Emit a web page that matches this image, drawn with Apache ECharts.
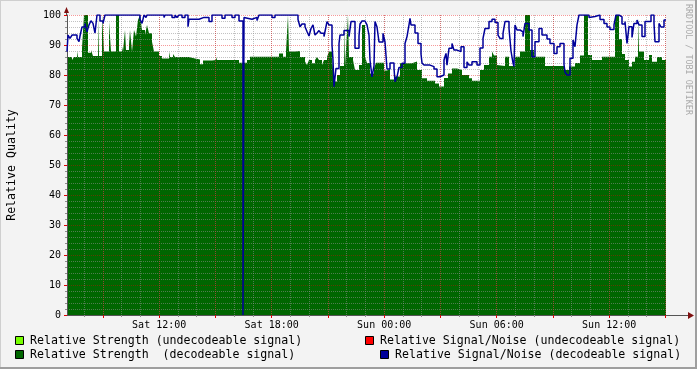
<!DOCTYPE html>
<html><head><meta charset="utf-8">
<script src="https://cdn.jsdelivr.net/npm/echarts@6/dist/echarts.min.js"></script>
<style>html,body{margin:0;padding:0;background:#f3f3f3}#c{width:697px;height:369px}</style>
</head><body><div id="c"></div><script>
// ---- data ----
const T0_MIN = 425;      // first RRD row: Sat 07:05 (minutes since Sat 00:00)
const ROW_MIN = 3.2;     // minutes per RRD row
const N_ROWS = 599;
const xLabelTimes = [720, 1080, 1440, 1800, 2160];
const yTickValues = [0,10,20,30,40,50,60,70,80,90,100];
// Relative Strength (decodeable signal): [row where value starts, value]
const strength = [[0,86],[5,85],[7,86],[10,88],[11,86],[15,89],[17,100],[21,87.4],[24,88.3],[26,86.3],[31,99],[32,86.3],[35,100],[37,87.8],[42,97.8],[44,87.8],[49,100],[52,87.8],[55,89.4],[56,87.8],[58,95],[59,88.3],[62,90],[63,95],[65,87.8],[67,95],[69,92.8],[71,98.3],[73,100],[75,95],[78,93.3],[80,96.7],[82,93.9],[85,91.1],[87,87.8],[92,86.3],[95,85.5],[102,87.8],[103,86],[106,87],[108,86],[122,85.5],[128,85.2],[133,83.6],[136,84.8],[145,85],[149,86],[150,85],[172,84.1],[180,85],[183,86.1],[212,87.2],[216,86.1],[219,87.8],[221,100],[222,87.8],[228,88],[233,86],[238,84.5],[240,83.3],[242,85],[245,83.9],[248,85],[250,86],[252,85],[255,83.3],[257,85],[260,86],[262,87.8],[265,86],[267,77.8],[270,80],[273,83],[277,97.8],[278,83],[279,88.3],[281,100],[282,86],[286,85],[288,81.7],[292,83.3],[295,96.7],[298,86.1],[300,84],[303,80.5],[307,82.2],[309,84.1],[317,81.5],[320,82],[323,78.5],[328,79.5],[333,83.9],[345,84.5],[350,81.7],[355,78.9],[360,78.1],[368,77.2],[372,76.2],[377,79],[381,80.5],[385,82.2],[390,81.7],[395,80],[402,78.9],[405,78.1],[413,81.7],[417,83.3],[422,86.1],[425,87.8],[427,86.5],[430,83.3],[432,83],[438,86.1],[442,83],[448,86.1],[453,87.8],[458,100],[463,88.3],[467,86.1],[478,83],[497,82.5],[498,81.7],[502,82.8],[508,84],[513,86.5],[517,100],[521,86.7],[525,85],[535,86.1],[548,100],[552,92],[555,87],[558,85],[562,82.8],[565,84.4],[568,86.1],[571,99],[572,87.8],[577,85],[582,86.7],[585,84.4],[590,86],[595,85]];
// Relative Signal/Noise (decodeable signal): [row where value starts, value]
const snr = [[0,87.8],[1,93.3],[3,92.2],[5,93.3],[10,92.2],[12,91.1],[13,93],[15,96],[18,97.2],[20,94.4],[22,96.7],[24,98.1],[26,97.2],[28,94],[30,100],[33,98],[36,97.2],[38,100],[58,99.4],[60,100],[69,99.4],[70,100],[73,98.6],[75,97.2],[77,100],[79,99.2],[80,100],[97,99.2],[98,100],[105,99.2],[108,100],[110,99.2],[112,100],[115,99.2],[118,100],[121,96.1],[122,98.6],[132,99.2],[137,98.6],[139,99.2],[142,97.8],[145,100],[155,98.9],[158,100],[165,99.2],[168,100],[172,98],[176,0],[177,99.2],[178,98.6],[185,99.2],[190,98.2],[192,100],[205,99.2],[208,100],[231,98.5],[233,96.1],[235,97],[238,96.1],[240,94.5],[242,93],[244,95.5],[246,96.7],[248,93.3],[250,94],[252,94.8],[254,93.9],[257,92.8],[258,94.5],[260,97.8],[262,96.7],[265,90],[266,85],[267,76.1],[269,82.2],[272,90.5],[273,93.3],[277,94.8],[282,92.8],[284,97.8],[288,88.9],[292,93],[293,97],[295,98],[298,97.5],[300,96.7],[302,93.3],[303,85],[305,79.4],[307,83],[308,97.8],[310,96],[312,91],[316,93.9],[318,91],[320,82],[323,84],[327,82.2],[328,77.8],[330,79.4],[332,82.5],[335,83.9],[338,90.5],[340,92.8],[342,96.7],[343,98.9],[344,96.7],[348,94],[351,90.5],[354,87],[355,84],[357,83.3],[363,82.8],[367,82],[370,79.4],[373,80],[377,85],[379,87.2],[380,83.3],[382,88.9],[385,90.5],[387,88.3],[390,87.8],[394,89.4],[397,82.5],[400,84.4],[402,83.3],[405,84.4],[410,83.3],[413,89],[416,92.2],[418,95.5],[422,97.8],[425,98.6],[428,97.5],[431,93.3],[433,92.2],[436,93.9],[438,97.8],[442,95.5],[444,88],[446,84],[447,82.8],[448,96.7],[450,95],[453,94.4],[456,92.8],[458,97.2],[462,95],[465,86.1],[468,91.1],[472,95.5],[475,93.3],[480,92],[483,90.5],[487,87.2],[490,89.4],[493,90.5],[497,83.5],[498,81],[500,80],[503,85.6],[506,91.7],[508,89.4],[510,96.7],[512,100],[522,99.2],[523,99.5],[528,100],[533,98.5],[537,97.2],[540,96],[543,95.2],[547,96.7],[549,100],[552,99.4],[555,97],[558,97.8],[560,90.5],[562,96.1],[565,92.5],[567,97.2],[570,98.3],[572,96.7],[575,92.8],[578,97.8],[584,100],[587,97.2],[588,91.1],[592,97.2],[594,96],[597,98.3]];

// ---- build ----
const MONO = '"DejaVu Sans Mono", monospace';
const tMax = T0_MIN + N_ROWS * ROW_MIN;
function toSeries(arr){
  const d = arr.map(([r,v]) => [T0_MIN + r*ROW_MIN, v]);
  d.push([tMax, arr[arr.length-1][1]]);
  return d;
}
const hourMarks = [], majorMarks = [];
for (let m = Math.ceil(T0_MIN/60)*60; m <= tMax; m += 60) { hourMarks.push(m); if ((m/60)%3===0) majorMarks.push(m); }
const pad = n => String(n).padStart(2,'0');
const fmt = v => (v < 1440 ? 'Sat ' : 'Sun ') + pad(Math.floor((v%1440)/60)) + ':' + pad(Math.round(v%60));

const GRID_C = 'rgba(143,143,143,0.55)';
const MGRID_C = 'rgba(229,0,0,0.4)';
const L = 67, T = 15, R = 666, B = 315;

const chart = echarts.init(document.getElementById('c'), null, {renderer:'canvas'});
const legendItems = [
  {x:15, y:341, c:'#77ff00', t:'Relative Strength (undecodeable signal)'},
  {x:365, y:341, c:'#ff0000', t:'Relative Signal/Noise (undecodeable signal)'},
  {x:15, y:355, c:'#006600', t:'Relative Strength  (decodeable signal)'},
  {x:380, y:355, c:'#000099', t:'Relative Signal/Noise (decodeable signal)'}
];
const graphics = [];
legendItems.forEach(it => {
  graphics.push({type:'rect', shape:{x:it.x+0.5, y:it.y-4.5, width:8, height:8}, style:{fill:it.c, stroke:'#000', lineWidth:1}, z:10});
  graphics.push({type:'text', x:it.x+15, y:it.y, style:{text:it.t, font:'11.6px '+MONO, fill:'#000', textVerticalAlign:'middle'}, z:10});
});
// watermark
graphics.push({type:'text', x:688, y:4, rotation:-Math.PI/2, style:{text:'RRDTOOL / TOBI OETIKER', font:'8.4px '+MONO, fill:'#aaaaaa', textVerticalAlign:'middle'}, z:10});
// axis extensions + arrows
graphics.push({type:'line', shape:{x1:R, y1:B+0.5, x2:690, y2:B+0.5}, style:{stroke:'#555', lineWidth:1}, z:10});
graphics.push({type:'polygon', shape:{points:[[688,312],[694,315.5],[688,319]]}, style:{fill:'#7f1010'}, z:10});
graphics.push({type:'line', shape:{x1:L-0.5, y1:T, x2:L-0.5, y2:10}, style:{stroke:'#555', lineWidth:1}, z:10});
graphics.push({type:'polygon', shape:{points:[[64,13],[66.5,7],[69,13]]}, style:{fill:'#7f1010'}, z:10});
// frame
graphics.push({type:'line', shape:{x1:0,y1:0.5,x2:697,y2:0.5}, style:{stroke:'#cfcfcf',lineWidth:1}, z:10});
graphics.push({type:'line', shape:{x1:0.5,y1:0,x2:0.5,y2:369}, style:{stroke:'#cfcfcf',lineWidth:1}, z:10});
graphics.push({type:'line', shape:{x1:0,y1:368,x2:697,y2:368}, style:{stroke:'#9e9e9e',lineWidth:2}, z:10});
graphics.push({type:'line', shape:{x1:696,y1:0,x2:696,y2:369}, style:{stroke:'#9e9e9e',lineWidth:2}, z:10});

const xCommon = {type:'value', min:T0_MIN, max:tMax, position:'bottom', z:3};
chart.setOption({
  animation:false,
  backgroundColor:'#f3f3f3',
  grid:{left:L, top:T, right:697-R, bottom:369-B, show:true, backgroundColor:'#ffffff', borderWidth:0, containLabel:false, outerBoundsMode:'none'},
  xAxis:[
    Object.assign({}, xCommon, {
      axisLine:{show:true, lineStyle:{color:'#555', width:1}},
      axisTick:{show:true, customValues:hourMarks, length:2, inside:false, lineStyle:{color:'#8f8f8f'}},
      axisLabel:{customValues:xLabelTimes, formatter:fmt, color:'#000', fontFamily:MONO, fontSize:10, margin:5},
      splitLine:{show:true, lineStyle:{color:GRID_C, width:1, type:[1,1]}}
    }),
    Object.assign({}, xCommon, {
      z:4,
      axisLine:{show:false},
      axisTick:{show:true, customValues:majorMarks, length:3, lineStyle:{color:'#e00000'}},
      axisLabel:{show:false},
      splitLine:{show:true, lineStyle:{color:MGRID_C, width:1, type:[1,1]}}
    })
  ],
  yAxis:{
    type:'value', min:0, max:100, interval:10, z:3,
    name:'Relative Quality', nameLocation:'middle', nameGap:49,
    nameTextStyle:{fontFamily:MONO, fontSize:11.6, color:'#000'},
    axisLine:{show:true, lineStyle:{color:'#555', width:1}},
    axisTick:{show:true, length:3, lineStyle:{color:'#e00000'}},
    minorTick:{show:true, splitNumber:5, length:2, lineStyle:{color:'#8f8f8f'}},
    axisLabel:{color:'#000', fontFamily:MONO, fontSize:10, margin:6},
    splitLine:{show:true, lineStyle:{color:MGRID_C, width:1, type:[1,1]}},
    minorSplitLine:{show:true, lineStyle:{color:GRID_C, width:1, type:[1,1]}}
  },
  series:[
    {name:'Relative Strength (decodeable signal)', type:'line', step:'end', data:toSeries(strength),
     symbol:'none', lineStyle:{width:0}, areaStyle:{color:'#006600', opacity:1}, z:2, silent:true},
    {name:'Relative Signal/Noise (decodeable signal)', type:'line', step:'end', data:toSeries(snr),
     symbol:'none', lineStyle:{width:1.5, color:'#000099'}, z:6, silent:true}
  ],
  graphic:graphics
});
</script></body></html>
